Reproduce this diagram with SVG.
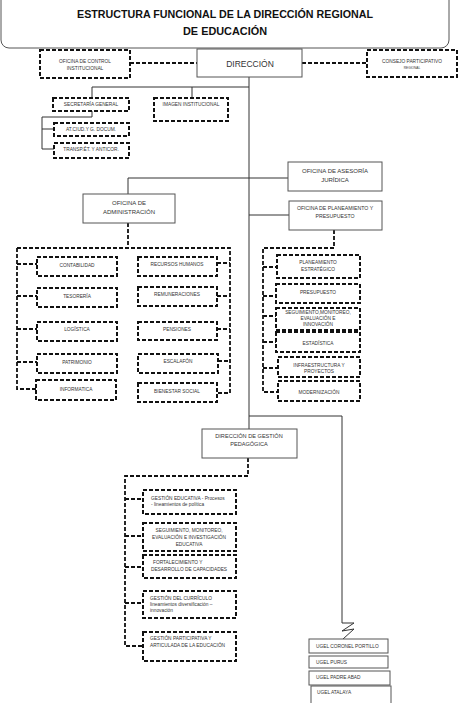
<svg xmlns="http://www.w3.org/2000/svg" width="474" height="703" viewBox="0 0 474 703">
<style>
text{font-family:"Liberation Sans",Arial,sans-serif;fill:#333;text-anchor:middle}
.t{font-size:11.5px;font-weight:bold;fill:#111}
.s{font-size:4.8px}
.m{font-size:6px}
.solid{fill:#fff;stroke:#555;stroke-width:1}
.dash{fill:#fff;stroke:#111;stroke-width:2;stroke-dasharray:4 2}
.ln{fill:none;stroke:#333;stroke-width:1}
.dl{fill:none;stroke:#111;stroke-width:1.8;stroke-dasharray:4 2}
.l{text-anchor:start}
</style>
<rect width="474" height="703" fill="#fff"/>
<g id="title">
<rect x="1" y="-8" width="448" height="56" rx="8" fill="#fff" stroke="#555" stroke-width="1"/>
<text class="t" x="225" y="18" textLength="296" lengthAdjust="spacingAndGlyphs">ESTRUCTURA FUNCIONAL DE LA DIRECCIÓN REGIONAL</text>
<text class="t" x="225" y="35" textLength="84" lengthAdjust="spacingAndGlyphs">DE EDUCACIÓN</text>
</g>
<g id="connectors">
<path class="dl" d="M130,63 H197"/>
<path class="dl" d="M302,63 H367"/>
<path class="ln" d="M249,77 V429"/>
<path class="ln" d="M249,416 H342 V623 L354,623 L342,631 L354,629 L343,639"/>
<path class="ln" d="M92,87 H249"/>
<path class="ln" d="M92,87 V98"/>
<path class="ln" d="M192,87 V98"/>
<path class="ln" d="M92,111 V117 H42 V149 H54"/>
<path class="ln" d="M42,129 H54"/>
<path class="ln" d="M128,194 V178 H288"/>
<path class="ln" d="M249,215 H289"/>
<path class="dl" d="M128,223 V248"/>
<path class="dl" d="M17,248 H230 V393 H217"/>
<path class="dl" d="M17,248 V389 H36"/>
<path class="dl" d="M17,264 H37 M17,296 H37 M17,329 H37 M17,362 H37"/>
<path class="dl" d="M217,263 H230 M217,296 H230 M217,329 H230 M218,361 H230"/>
<path class="dl" d="M334,230 V248 H263 V392 H278"/>
<path class="dl" d="M263,267 H277 M263,296 H276 M263,316 H276 M263,342 H276 M263,368 H278"/>
<path class="dl" d="M248,458 V476 H125 V646 H143"/>
<path class="dl" d="M125,499 H143 M125,536 H143 M125,567 H143 M125,603 H143"/>
</g>
<g id="oci">
<rect class="dash" x="40" y="50" width="90" height="28"/>
<text class="s" x="85" y="63">OFICINA DE CONTROL</text>
<text class="s" x="85" y="70">INSTITUCIONAL</text>
</g>
<g id="direccion">
<rect class="solid" x="197" y="49" width="105" height="28"/>
<text x="250" y="67" font-size="8.5px" fill="#222">DIRECCIÓN</text>
</g>
<g id="consejo">
<rect class="dash" x="367" y="50" width="90" height="27"/>
<text class="s" x="412" y="63">CONSEJO PARTICIPATIVO</text>
<text x="412" y="68.5" font-size="3.2px">REGIONAL</text>
</g>
<g id="secretaria">
<rect class="dash" x="53" y="98" width="76" height="13"/>
<text class="s" x="91" y="106">SECRETARÍA GENERAL</text>
</g>
<g id="imagen">
<rect class="dash" x="154" y="98" width="74" height="23"/>
<text class="s" x="191" y="106">IMAGEN INSTITUCIONAL</text>
</g>
<g id="atciud">
<rect class="dash" x="54" y="123" width="75" height="13"/>
<text class="s" x="91" y="131">AT.CIUD.Y G. DOCUM.</text>
</g>
<g id="transp">
<rect class="dash" x="54" y="143" width="75" height="15"/>
<text class="s" x="91" y="151">TRANSP.ÉT. Y ANTICOR.</text>
</g>
<g id="asesoria">
<rect class="solid" x="288" y="162" width="94" height="29"/>
<text class="m" x="335" y="173">OFICINA DE ASESORÍA</text>
<text class="m" x="335" y="182">JURÍDICA</text>
</g>
<g id="administracion">
<rect class="solid" x="83" y="194" width="92" height="29"/>
<text class="m" x="129" y="205">OFICINA DE</text>
<text class="m" x="129" y="214">ADMINISTRACIÓN</text>
</g>
<g id="planeamiento">
<rect class="solid" x="289" y="201" width="93" height="29"/>
<text x="335" y="210" font-size="5.2px">OFICINA DE PLANEAMIENTO Y</text>
<text x="335" y="218" font-size="5.2px">PRESUPUESTO</text>
</g>
<g id="contabilidad"><rect class="dash" x="37" y="257" width="80" height="19"/><text class="s" x="77" y="267">CONTABILIDAD</text></g>
<g id="tesoreria"><rect class="dash" x="37" y="288" width="80" height="19"/><text class="s" x="77" y="298">TESORERÍA</text></g>
<g id="logistica"><rect class="dash" x="37" y="322" width="80" height="19"/><text class="s" x="77" y="331">LOGÍSTICA</text></g>
<g id="patrimonio"><rect class="dash" x="37" y="354" width="80" height="19"/><text class="s" x="77" y="364">PATRIMONIO</text></g>
<g id="informatica"><rect class="dash" x="36" y="380" width="80" height="20"/><text class="s" x="76" y="391">INFORMATICA</text></g>
<g id="rrhh"><rect class="dash" x="138" y="257" width="79" height="19"/><text class="s" x="177" y="266">RECURSOS HUMANOS</text></g>
<g id="remuneraciones"><rect class="dash" x="138" y="287" width="79" height="19"/><text class="s" x="177" y="296">REMUNERACIONES</text></g>
<g id="pensiones"><rect class="dash" x="138" y="322" width="79" height="18"/><text class="s" x="177" y="331">PENSIONES</text></g>
<g id="escalafon"><rect class="dash" x="138" y="354" width="80" height="19"/><text class="s" x="178" y="363">ESCALAFÓN</text></g>
<g id="bienestar"><rect class="dash" x="138" y="383" width="79" height="19"/><text class="s" x="177" y="393">BIENESTAR SOCIAL</text></g>
<g id="plan-estrategico"><rect class="dash" x="277" y="255" width="83" height="23"/><text class="s" x="318" y="264">PLANEAMIENTO</text><text class="s" x="318" y="271">ESTRATÉGICO</text></g>
<g id="presupuesto"><rect class="dash" x="276" y="284" width="84" height="19"/><text class="s" x="318" y="294">PRESUPUESTO</text></g>
<g id="seguimiento"><rect class="dash" x="276" y="308" width="84" height="22"/><text class="s" x="318" y="314">SEGUIMIENTO,MONITOREO,</text><text class="s" x="318" y="320">EVALUACIÓN E</text><text class="s" x="318" y="326">INNOVACIÓN</text></g>
<g id="estadistica"><rect class="dash" x="276" y="332" width="84" height="20"/><text class="s" x="318" y="345">ESTADÍSTICA</text></g>
<g id="infraestructura"><rect class="dash" x="278" y="357" width="82" height="20"/><text class="s" x="319" y="367">INFRAESTRUCTURA Y</text><text class="s" x="319" y="373">PROYECTOS</text></g>
<g id="modernizacion"><rect class="dash" x="278" y="381" width="82" height="20"/><text class="s" x="319" y="394">MODERNIZACIÓN</text></g>
<g id="dgp">
<rect class="solid" x="202" y="429" width="95" height="29"/>
<text x="249" y="438" font-size="5.6px">DIRECCIÓN DE GESTIÓN</text>
<text x="249" y="446" font-size="5.6px">PEDAGÓGICA</text>
</g>
<g id="gestion-educativa"><rect class="dash" x="143" y="490" width="93" height="24"/><text class="s l" x="151" y="500">GESTIÓN EDUCATIVA - Procesos</text><text class="s l" x="151" y="506">- lineamientos de política</text></g>
<g id="seg-monitoreo"><rect class="dash" x="143" y="523" width="93" height="28"/><text class="s" x="189" y="532">SEGUIMIENTO, MONITOREO,</text><text class="s" x="189" y="539">EVALUACIÓN E INVESTIGACIÓN</text><text class="s" x="189" y="546">EDUCATIVA</text></g>
<g id="fortalecimiento"><rect class="dash" x="143" y="555" width="93" height="23"/><text class="s l" x="153" y="564">FORTALECIMIENTO Y</text><text class="s" x="189" y="571">DESARROLLO DE CAPACIDADES</text></g>
<g id="curriculo"><rect class="dash" x="143" y="591" width="93" height="27"/><text class="s l" x="150" y="600">GESTIÓN DEL CURRÍCULO</text><text class="s l" x="150" y="606">lineamientos diversificación –</text><text class="s l" x="150" y="612">innovación</text></g>
<g id="participativa"><rect class="dash" x="143" y="632" width="93" height="29"/><text class="s l" x="150" y="640">GESTIÓN PARTICIPATIVA Y</text><text class="s l" x="150" y="647">ARTICULADA DE LA EDUCACIÓN</text></g>
<g id="ugel-coronel"><rect class="solid" x="309" y="639" width="79" height="14"/><text class="s l" x="316" y="648">UGEL CORONEL PORTILLO</text></g>
<g id="ugel-purus"><rect class="solid" x="309" y="656" width="79" height="12"/><text class="s l" x="316" y="664">UGEL PURUS</text></g>
<g id="ugel-padre"><rect class="solid" x="309" y="671" width="81" height="14"/><text class="s l" x="316" y="679">UGEL PADRE ABAD</text></g>
<g id="ugel-atalaya"><rect class="solid" x="311" y="686" width="80" height="20"/><text class="s l" x="317" y="694">UGEL ATALAYA</text></g>
</svg>
